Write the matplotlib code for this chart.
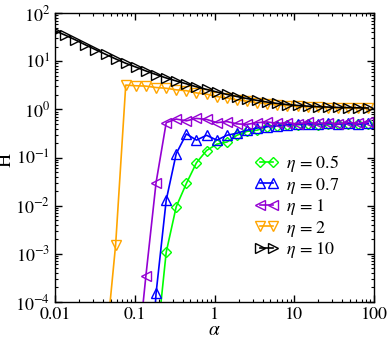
import numpy as np
import matplotlib
matplotlib.use("Agg")
import matplotlib.pyplot as plt
from matplotlib.ticker import LogLocator, FixedLocator, FixedFormatter, NullFormatter

plt.rcParams["font.family"] = "STIXGeneral"
plt.rcParams["mathtext.fontset"] = "stix"

# alpha grid (same for every curve)
alpha = [0.0100, 0.0134, 0.0179, 0.0240, 0.0321, 0.0430, 0.0576, 0.0771,
         0.103, 0.138, 0.185, 0.248, 0.331, 0.444, 0.594, 0.795,
         1.07, 1.43, 1.91, 2.56, 3.42, 4.58, 6.13, 8.21,
         11.0, 14.7, 19.7, 26.4, 35.3, 47.2, 63.2, 84.7]

nan = np.nan
H_eta05 = [nan, nan, nan, nan, nan, nan, nan, nan,
           nan, nan, 1e-5, 1.08e-3, 9.5e-3, 0.029, 0.078, 0.14,
           0.19, 0.21, 0.29, 0.35, 0.37, 0.44, 0.46, 0.47,
           0.48, 0.49, 0.48, 0.49, 0.49, 0.50, 0.49, 0.50]
H_eta07 = [nan, nan, nan, nan, nan, nan, nan, nan,
           nan, 1e-7, 1.5e-4, 0.013, 0.12, 0.31, 0.23, 0.29,
           0.23, 0.29, 0.32, 0.37, 0.41, 0.44, 0.46, 0.48,
           0.49, 0.50, 0.50, 0.51, 0.50, 0.51, 0.50, 0.51]
H_eta1 = [nan, nan, nan, nan, nan, nan, nan, nan,
          3e-6, 3.5e-4, 0.030, 0.53, 0.63, 0.58, 0.65, 0.62,
          0.53, 0.56, 0.50, 0.49, 0.53, 0.55, 0.51, 0.53,
          0.50, 0.54, 0.51, 0.53, 0.50, 0.54, 0.51, 0.55]
H_eta2 = [nan, nan, nan, nan, nan, 1e-5, 1.55e-3, 3.2,
          3.1, 3.05, 2.85, 2.75, 2.55, 2.45, 2.2, 2.08,
          1.85, 1.73, 1.58, 1.49, 1.38, 1.32, 1.24, 1.2,
          1.15, 1.13, 1.1, 1.09, 1.07, 1.07, 1.05, 1.05]
H_eta10 = [43, 35, 28, 22, 17.5, 14, 11.2, 9.1,
           7.6, 6.3, 5.3, 4.5, 3.9, 3.4, 2.95, 2.6,
           2.3, 2.05, 1.85, 1.68, 1.54, 1.42, 1.33, 1.26,
           1.21, 1.17, 1.14, 1.12, 1.1, 1.09, 1.08, 1.07]

series = [
    (H_eta05, "#00ff00", "D", 5.5, r"$\eta$ = 0.5"),
    (H_eta07, "#0000ff", "^", 7, r"$\eta$ = 0.7"),
    (H_eta1, "#9400d3", "<", 7, r"$\eta$ = 1"),
    (H_eta2, "#ffa500", "v", 7, r"$\eta$ = 2"),
    (H_eta10, "#000000", ">", 7, r"$\eta$ = 10"),
]

fig = plt.figure(figsize=(3.9, 3.37), dpi=100)
ax = fig.add_axes([0.141, 0.104, 0.818, 0.857])

for vals, col, mk, ms, lab in series:
    ax.plot(alpha, vals, color=col, marker=mk, ms=ms, mfc="none", mec=col,
            mew=1.0, lw=1.2, label=lab)

ax.set_xscale("log")
ax.set_yscale("log")
ax.set_xlim(0.01, 100)
ax.set_ylim(1e-4, 1e2)

ax.xaxis.set_major_locator(FixedLocator([0.01, 0.1, 1, 10, 100]))
ax.xaxis.set_major_formatter(FixedFormatter(["0.01", "0.1", "1", "10", "100"]))
ax.xaxis.set_minor_locator(LogLocator(base=10, subs=np.arange(2, 10), numticks=20))
ax.xaxis.set_minor_formatter(NullFormatter())
ax.yaxis.set_major_locator(LogLocator(base=10, numticks=20))
ax.yaxis.set_minor_locator(LogLocator(base=10, subs=np.arange(2, 10), numticks=20))
ax.yaxis.set_minor_formatter(NullFormatter())

ax.tick_params(which="both", direction="in", top=True, right=True, labelsize=13)
ax.tick_params(which="major", length=5, width=1)
ax.tick_params(which="minor", length=2.5, width=0.8)
for s in ax.spines.values():
    s.set_linewidth(1.0)

ax.set_xlabel(r"$\alpha$", fontsize=14, labelpad=-1)
ax.set_ylabel("H", fontsize=14)
ax.yaxis.set_label_coords(-0.128, 0.49)

ax.legend(loc="upper left", bbox_to_anchor=(0.654, 0.545),
          bbox_transform=fig.transFigure, frameon=False, fontsize=13,
          numpoints=2, handlelength=1.3, handletextpad=0.4,
          labelspacing=0.08, borderpad=0, borderaxespad=0)

fig.savefig("out.png", dpi=100)
